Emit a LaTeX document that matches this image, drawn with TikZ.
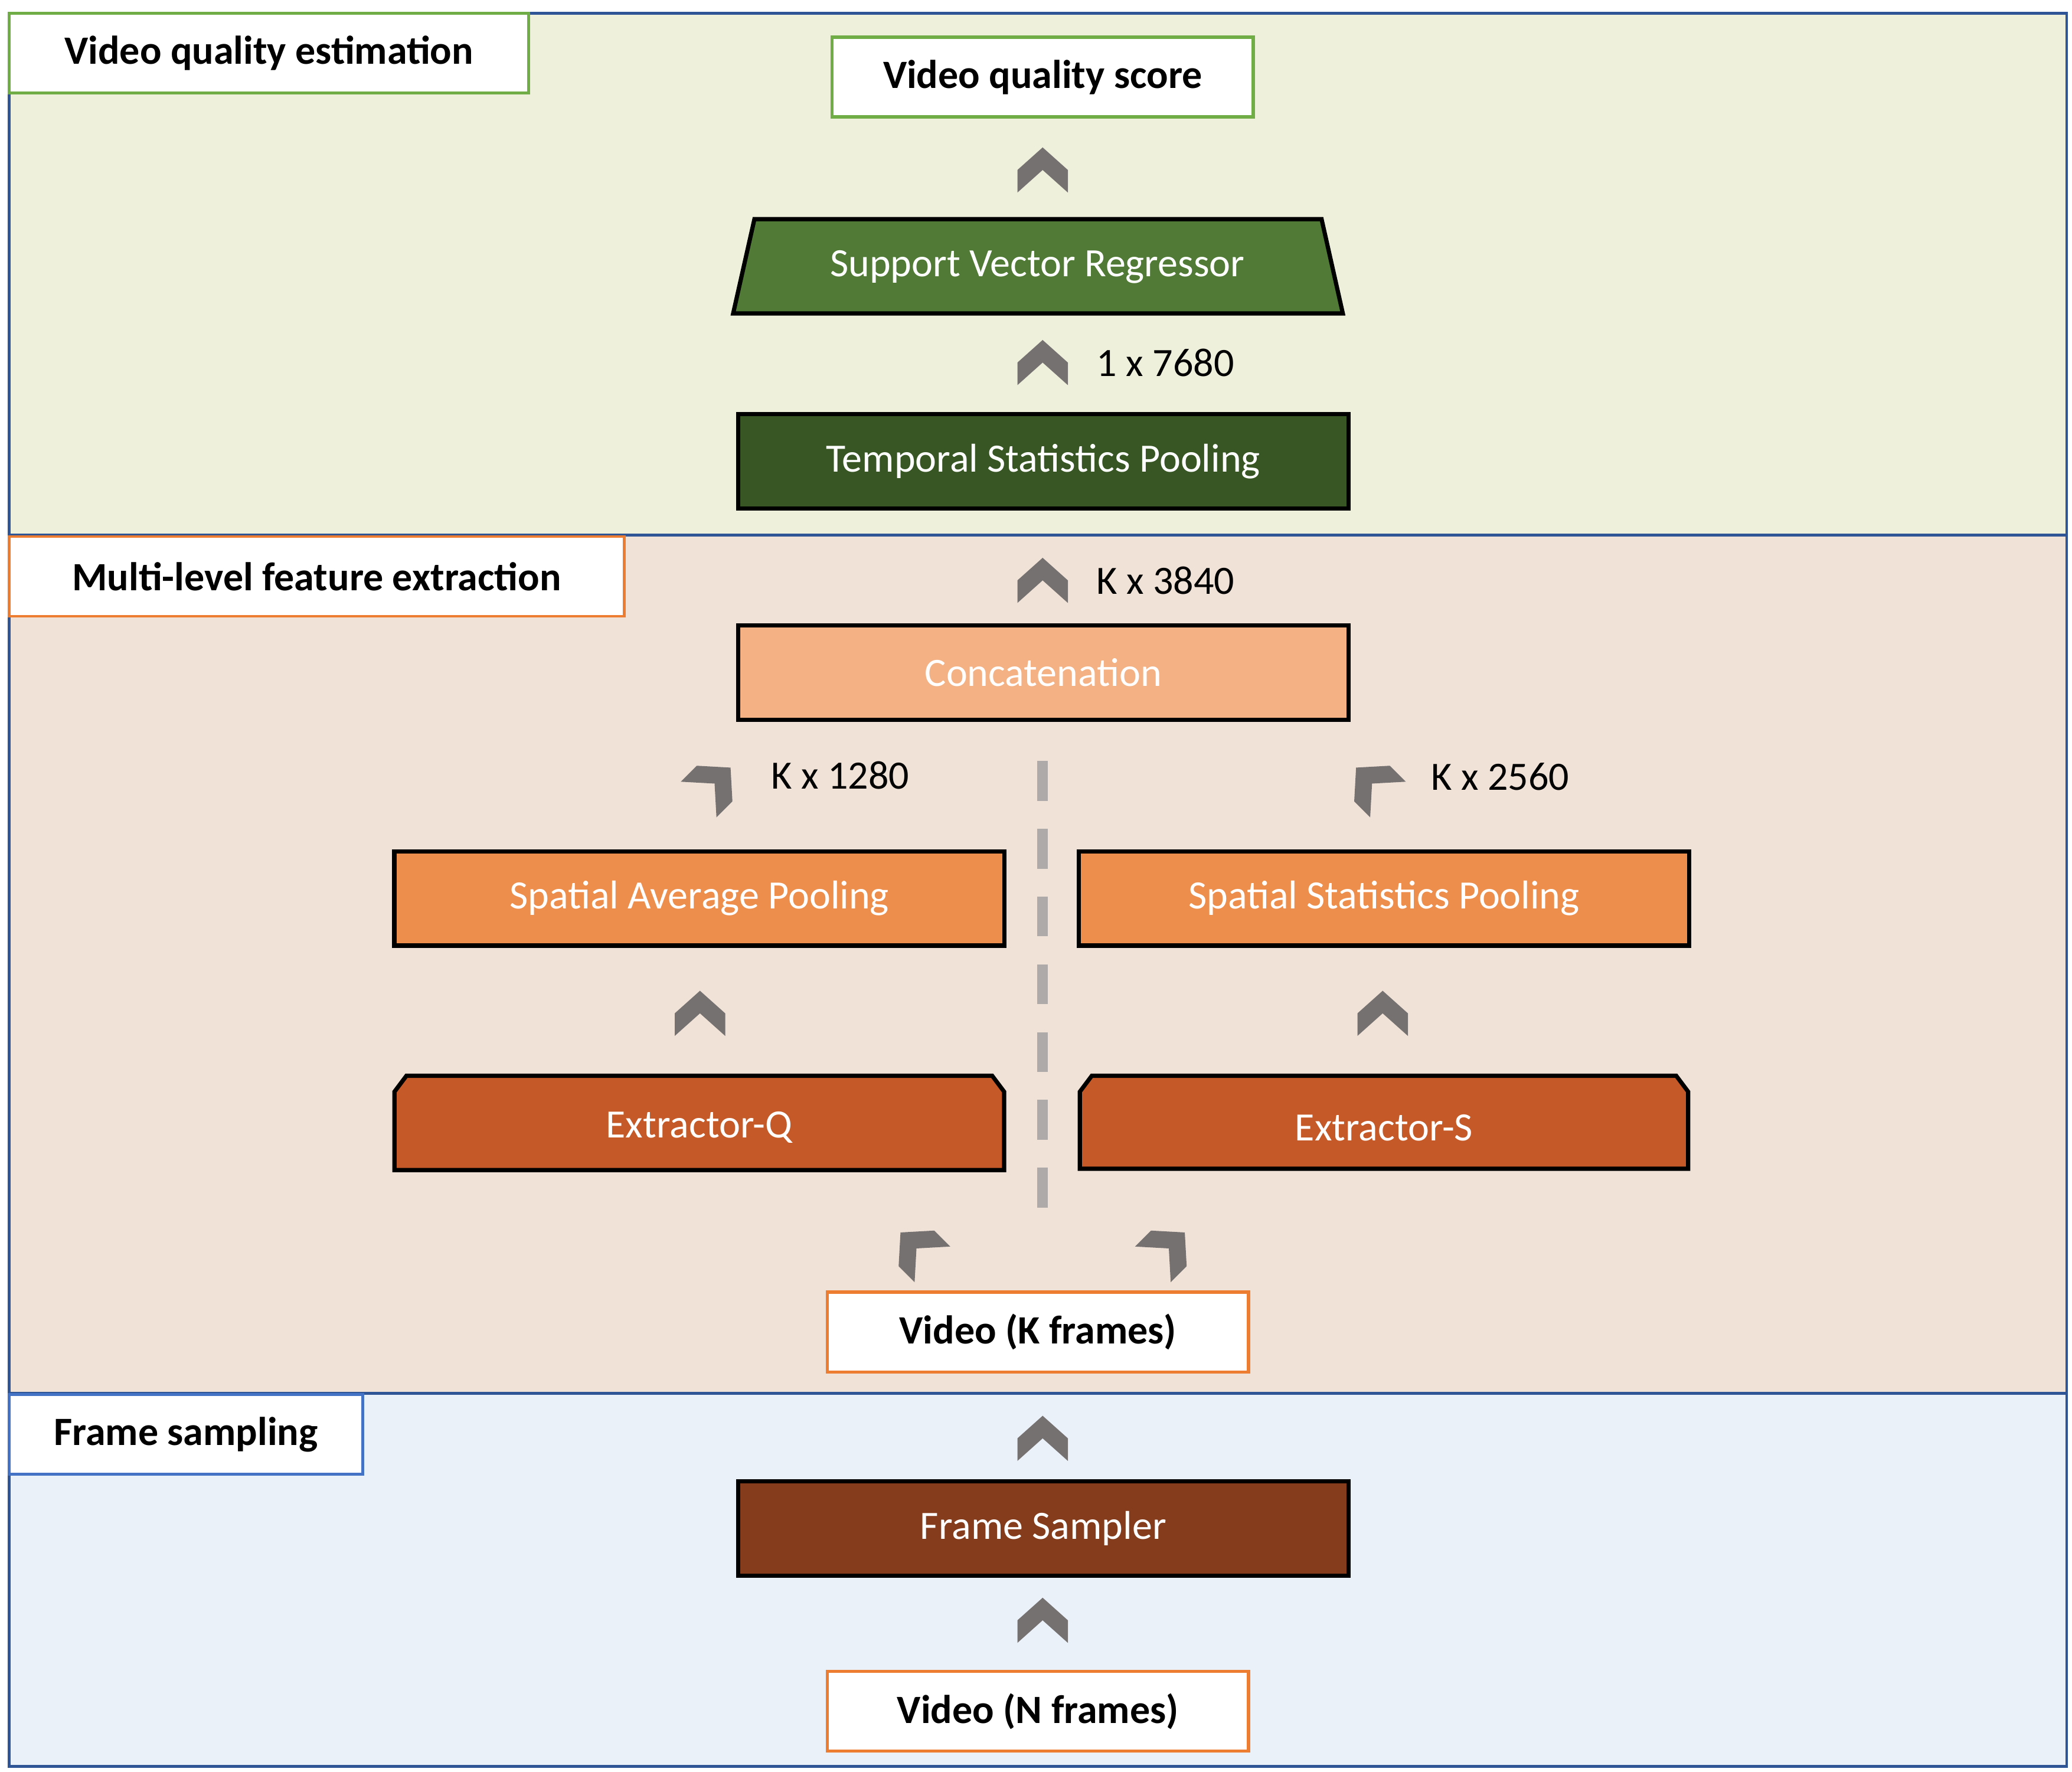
\documentclass[tikz,border=0pt]{standalone}
\usepackage{fontspec}
\setmainfont{Carlito}
\definecolor{bandG}{HTML}{EFF0DC}
\definecolor{bandO}{HTML}{F0E2D7}
\definecolor{bandB}{HTML}{EBF1F9}
\definecolor{edgeB}{HTML}{2F5597}
\definecolor{lgreen}{HTML}{70AD47}
\definecolor{lorange}{HTML}{ED7D31}
\definecolor{lblue}{HTML}{4472C4}
\definecolor{svr}{HTML}{507A35}
\definecolor{tsp}{HTML}{375623}
\definecolor{cat}{HTML}{F4B183}
\definecolor{sp}{HTML}{EE8E4C}
\definecolor{ext}{HTML}{C55A28}
\definecolor{fs}{HTML}{843C1C}
\definecolor{chevgray}{HTML}{767171}
\definecolor{dashg}{HTML}{AEAAAA}
\begin{document}
\begin{tikzpicture}[x=0.01cm,y=-0.01cm,
  every node/.style={font=\fontsize{8.6}{10}\selectfont},
  band/.style={draw=edgeB,line width=0.6pt},
  tag/.style={draw,fill=white,line width=0.6pt,inner sep=0pt,minimum height=0.6cm,font=\fontsize{8.6}{10}\selectfont\bfseries},
  io/.style={draw,fill=white,line width=0.7pt,inner sep=0pt,minimum width=3.17cm,minimum height=0.6cm,font=\fontsize{8.6}{10}\selectfont\bfseries},
  blk/.style={draw=black,line width=0.9pt,inner sep=0pt,minimum width=4.59cm,minimum height=0.71cm,text=white},
  lab/.style={anchor=west,inner sep=0pt},
  chev/.pic={\fill[chevgray] (0,-17)--(19,0)--(19,17)--(0,0)--(-19,17)--(-19,0)--cycle;}]
\useasboundingbox (0,0) rectangle (1560,1334);
% bands
\filldraw[band,fill=bandG] (7,10) rectangle (1556,403);
\filldraw[band,fill=bandO] (7,403) rectangle (1556,1049);
\filldraw[band,fill=bandB] (7,1049) rectangle (1556,1330);
\node[tag,draw=lgreen,minimum width=3.91cm] (t1) at (202.5,40) {Video quality estimation};
\node[tag,draw=lorange,minimum width=4.63cm] (t2) at (238.5,434) {Multi-level feature extraction};
\node[tag,draw=lblue,minimum width=2.66cm] (t3) at (140,1080) {Frame sampling};
% top
\node[io,draw=lgreen] (vqs) at (785,58) {Video quality score};
\pic at (785,128) {chev};
\filldraw[fill=svr,line width=0.9pt] (568,165)--(995,165)--(1011,236)--(552,236)--cycle;
\node[text=white] (svr) at (781,201) {Support Vector Regressor};
\pic at (785,273) {chev};
\node[lab] (l1) at (825,273) {1 x 7680};
\node[blk,fill=tsp] (tsp) at (785.5,347.5) {Temporal Statistics Pooling};
% middle
\pic at (785,437) {chev};
\node[lab] (l2) at (825,437) {K x 3840};
\node[blk,fill=cat] (cat) at (785.5,506.5) {Concatenation};
\pic[rotate=-45] at (538,590) {chev};
\node[lab] (l3) at (580,584) {K x 1280};
\pic[rotate=45] at (1033,590) {chev};
\node[lab] (l4) at (1077,585) {K x 2560};
\draw[dashg,line width=0.08cm,dash pattern=on 0.3cm off 0.21cm] (785,573)--(785,915);
\node[blk,fill=sp] (sap) at (526.5,676.5) {Spatial Average Pooling};
\node[blk,fill=sp] (ssp) at (1042,676.5) {Spatial Statistics Pooling};
\pic at (527,763) {chev};
\pic at (1041,763) {chev};
\filldraw[fill=ext,line width=0.9pt] (297,881)--(297,822)--(306,810)--(747,810)--(756,822)--(756,881)--cycle;
\node[text=white] (exq) at (526.5,849) {Extractor-Q};
\filldraw[fill=ext,line width=0.9pt] (813,880)--(813,822)--(822,810)--(1262,810)--(1271,822)--(1271,880)--cycle;
\node[text=white] (exs) at (1042,849) {Extractor-S};
\pic[rotate=45] at (690,940) {chev};
\pic[rotate=-45] at (880,940) {chev};
\node[io,draw=lorange] (vk) at (781.5,1003) {Video (K frames)};
% bottom
\pic at (785,1083) {chev};
\node[blk,fill=fs] (fs) at (785.5,1151) {Frame Sampler};
\pic at (785,1220) {chev};
\node[io,draw=lorange] (vn) at (781.5,1288.5) {Video (N frames)};
\end{tikzpicture}
\end{document}
